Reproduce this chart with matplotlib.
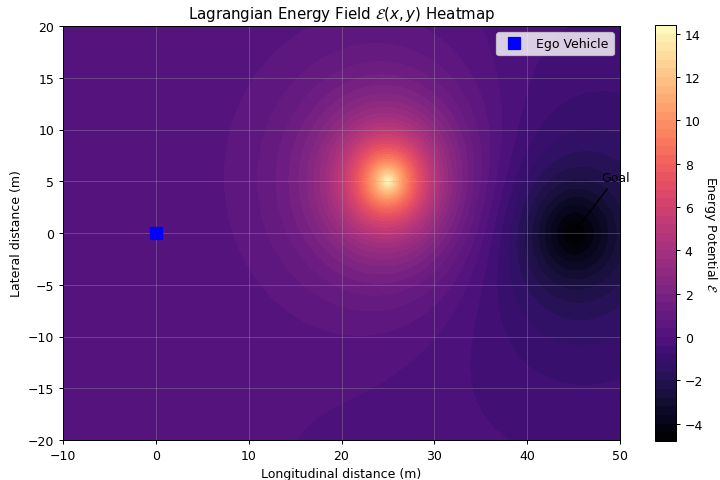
import numpy as np
import matplotlib
matplotlib.use("Agg")
import matplotlib.pyplot as plt

#%% dados
x_range = [-10, 50]
y_range = [-20, 20]
ego_pos = [0, 0]
goal_pos = [45, 0]
goal_text_pos = [48, 5]
obstacle_pos = [25, 5]
obstacle_peak = 14.8     # pico do obstaculo
obstacle_decay = 5.0     # decaimento (m)
goal_depth = 5.4         # profundidade do poco do objetivo
goal_width = 3.8
base_level = 0.5

#%% campo de energia
x = np.linspace(x_range[0], x_range[1], 300)
y = np.linspace(y_range[0], y_range[1], 300)
X, Y = np.meshgrid(x, y)
r_obs = np.sqrt((X - obstacle_pos[0])**2 + (Y - obstacle_pos[1])**2)
r_goal2 = (X - goal_pos[0])**2 + (Y - goal_pos[1])**2
E = (base_level
     + obstacle_peak * np.exp(-r_obs / obstacle_decay)
     - goal_depth / np.sqrt(1 + r_goal2 / goal_width**2))

#%% grafico
fig = plt.figure(figsize=(8, 481/90), dpi=90)
ax = fig.add_axes([63/720, 40/481, 557/720, 414/481])
cax = fig.add_axes([655/720, 39/481, 21/720, 416/481])

cs = ax.contourf(X, Y, E, levels=50, cmap='magma')
cbar = fig.colorbar(cs, cax=cax)
cbar.set_label(r'Energy Potential $\mathcal{E}$', rotation=270, labelpad=13)

ax.plot(ego_pos[0], ego_pos[1], 's', color='blue', markersize=10, label='Ego Vehicle')
ax.annotate('Goal', xy=goal_pos, xytext=goal_text_pos,
            arrowprops=dict(arrowstyle='->', color='black'))

ax.set_xlim(x_range)
ax.set_ylim(y_range)
ax.set_title(r'Lagrangian Energy Field $\mathcal{E}(x, y)$ Heatmap')
ax.set_xlabel('Longitudinal distance (m)')
ax.set_ylabel('Lateral distance (m)')
ax.legend(loc='upper right')
ax.grid(True, alpha=0.3)

fig.savefig('out.png', dpi=90)
